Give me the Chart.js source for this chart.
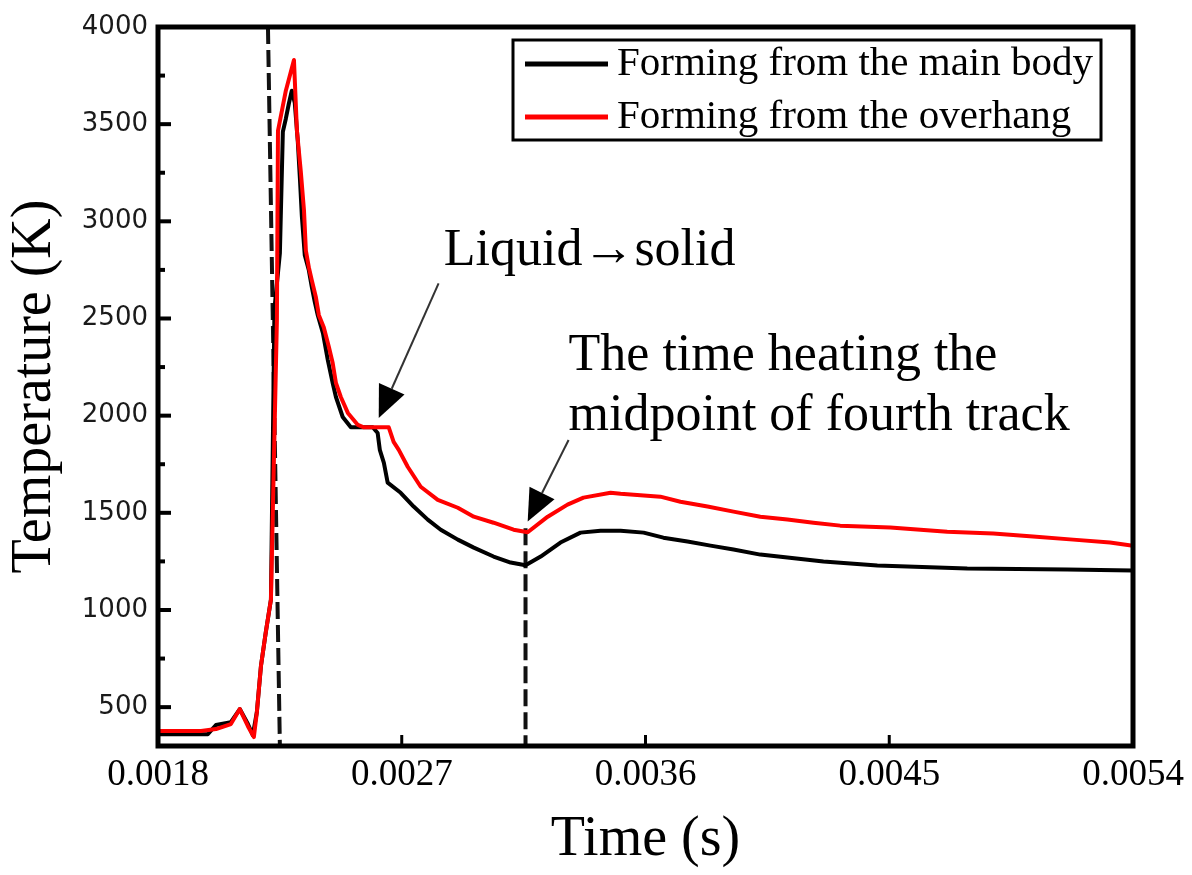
<!DOCTYPE html>
<html lang="en">
<head>
<meta charset="UTF-8">
<title>Temperature history of the fourth track</title>
<script src="https://cdn.jsdelivr.net/npm/chart.js"></script>
<style>
  body { margin: 0; background: #fff; }
</style>
</head>
<body>
<canvas id="chart" width="1192" height="875"></canvas>
<script>
// Temperature (K) against time (s) for the two forming cases
var mainBodyTime = [0.001800, 0.001984, 0.002014, 0.002069, 0.002102, 0.002132, 0.002150, 0.002165, 0.002180, 0.002198,
  0.002217, 0.002230, 0.002250, 0.002261, 0.002272, 0.002283, 0.002294, 0.002305, 0.002316, 0.002324,
  0.002331, 0.002342, 0.002357, 0.002368, 0.002379, 0.002390, 0.002409, 0.002427, 0.002445, 0.002457,
  0.002482, 0.002512, 0.002593, 0.002611, 0.002619, 0.002634, 0.002648, 0.002696, 0.002744, 0.002796,
  0.002844, 0.002907, 0.002966, 0.003039, 0.003102, 0.003157, 0.003213, 0.003286, 0.003360, 0.003434,
  0.003508, 0.003593, 0.003666, 0.003755, 0.003840, 0.003925, 0.004024, 0.004124, 0.004257, 0.004456,
  0.004788, 0.005157, 0.005400];
var mainBodyTemp = [361, 361, 408, 423, 490, 413, 356, 474, 710, 885,
  1054, 2550, 2835, 3461, 3528, 3605, 3672, 3610, 3415, 3220,
  3030, 2825, 2748, 2661, 2584, 2517, 2424, 2286, 2168, 2096,
  1993, 1940, 1940, 1911, 1824, 1757, 1655, 1603, 1532, 1465,
  1413, 1362, 1321, 1275, 1244, 1230, 1275, 1347, 1398, 1408,
  1408, 1398, 1372, 1352, 1331, 1311, 1285, 1270, 1249, 1229,
  1213, 1208, 1203];

var overhangTime = [0.001800, 0.001959, 0.002014, 0.002069, 0.002102, 0.002132, 0.002154, 0.002165, 0.002180, 0.002198,
  0.002217, 0.002239, 0.002243, 0.002272, 0.002302, 0.002313, 0.002327, 0.002339, 0.002346, 0.002357,
  0.002368, 0.002383, 0.002394, 0.002412, 0.002431, 0.002445, 0.002457, 0.002475, 0.002501, 0.002538,
  0.002560, 0.002652, 0.002670, 0.002689, 0.002722, 0.002770, 0.002833, 0.002907, 0.002966, 0.003039,
  0.003113, 0.003165, 0.003239, 0.003312, 0.003371, 0.003471, 0.003508, 0.003655, 0.003729, 0.003829,
  0.003925, 0.004024, 0.004124, 0.004220, 0.004319, 0.004504, 0.004714, 0.004884, 0.005031, 0.005179,
  0.005315, 0.005400];
var overhangTemp = [377, 377, 387, 413, 490, 402, 346, 474, 710, 885,
  1054, 2491, 3466, 3672, 3830, 3466, 3261, 3056, 2850, 2763,
  2696, 2609, 2517, 2455, 2353, 2271, 2168, 2096, 2014, 1952,
  1940, 1940, 1865, 1824, 1737, 1634, 1567, 1526, 1480, 1449,
  1413, 1400, 1480, 1542, 1578, 1603, 1598, 1583, 1557, 1532,
  1506, 1480, 1465, 1449, 1434, 1424, 1403, 1393, 1378, 1362,
  1347, 1331];

// dashed guides: laser reaching the point, and heating the midpoint of the fourth track
var meltGuideTime = [0.002206, 0.002250];
var meltGuideTemp = [4000, 300];
var trackGuideTime = [0.003157, 0.003157];
var trackGuideTemp = [1420, 300];

var xTicks = [0.0018, 0.0027, 0.0036, 0.0045, 0.0054];
var yTicks = [500, 1000, 1500, 2000, 2500, 3000, 3500, 4000];

function points(xs, ys) {
  return xs.map(function (x, i) { return { x: x, y: ys[i] }; });
}

// callouts, anchored in data units
var notes = [
  { lines: ['Liquid\u2192solid'], x: 0.002855, y: 2773, from: [0.002836, 2681], to: [0.002615, 1988] },
  { lines: ['The time heating the', 'midpoint of fourth track'], x: 0.003316, y: 2235, from: [0.003316, 1875], to: [0.003165, 1455] }
];

var serif = '"Liberation Serif", "Times New Roman", serif';

function drawArrow(ctx, x0, y0, x1, y1) {
  var dx = x1 - x0, dy = y1 - y0;
  var len = Math.sqrt(dx * dx + dy * dy);
  var ux = dx / len, uy = dy / len;
  var headLen = 32, headHalf = 14;
  var bx = x1 - ux * headLen, by = y1 - uy * headLen;
  ctx.strokeStyle = '#333';
  ctx.lineWidth = 2;
  ctx.beginPath();
  ctx.moveTo(x0, y0);
  ctx.lineTo(bx, by);
  ctx.stroke();
  ctx.fillStyle = '#000';
  ctx.beginPath();
  ctx.moveTo(x1, y1);
  ctx.lineTo(bx - uy * headHalf, by + ux * headHalf);
  ctx.lineTo(bx + uy * headHalf, by - ux * headHalf);
  ctx.closePath();
  ctx.fill();
}

var framePlugin = {
  id: 'frame',
  afterDraw: function (chart) {
    var ctx = chart.ctx;
    var a = chart.chartArea;
    var xs = chart.scales.x, ys = chart.scales.y;
    ctx.save();

    // inward ticks on the left axis, minor ones halfway
    ctx.strokeStyle = '#000';
    ctx.lineWidth = 4;
    yTicks.forEach(function (v) {
      var py = ys.getPixelForValue(v);
      ctx.beginPath(); ctx.moveTo(a.left, py); ctx.lineTo(a.left + 13, py); ctx.stroke();
      var pm = ys.getPixelForValue(v - 250);
      if (pm < a.bottom) {
        ctx.beginPath(); ctx.moveTo(a.left, pm); ctx.lineTo(a.left + 7, pm); ctx.stroke();
      }
    });
    ctx.lineWidth = 3;
    xTicks.forEach(function (v) {
      var px = xs.getPixelForValue(v);
      ctx.beginPath(); ctx.moveTo(px, a.bottom); ctx.lineTo(px, a.bottom - 11); ctx.stroke();
    });

    // frame
    ctx.lineWidth = 5;
    ctx.strokeRect(a.left, a.top, a.right - a.left, a.bottom - a.top);

    // legend
    ctx.lineWidth = 3;
    ctx.strokeRect(513, 40, 588, 100);
    var rows = [chart.data.datasets[1], chart.data.datasets[0]];
    ctx.font = '41px ' + serif;
    ctx.textBaseline = 'middle';
    ctx.textAlign = 'left';
    rows.forEach(function (ds, i) {
      var cy = 64 + i * 53;
      ctx.strokeStyle = ds.borderColor;
      ctx.lineWidth = 5;
      ctx.beginPath(); ctx.moveTo(525, cy); ctx.lineTo(608, cy); ctx.stroke();
      ctx.fillStyle = '#000';
      ctx.fillText(ds.label, 617, cy);
    });

    // callouts
    ctx.font = '52px ' + serif;
    ctx.textBaseline = 'alphabetic';
    notes.forEach(function (n) {
      var tx = xs.getPixelForValue(n.x), ty = ys.getPixelForValue(n.y);
      n.lines.forEach(function (t, i) {
        ctx.fillStyle = '#000';
        ctx.fillText(t, tx, ty + i * 60);
      });
      drawArrow(ctx, xs.getPixelForValue(n.from[0]), ys.getPixelForValue(n.from[1]),
        xs.getPixelForValue(n.to[0]), ys.getPixelForValue(n.to[1]));
    });
    ctx.restore();
  }
};

var lineStyle = { pointRadius: 0, borderWidth: 4, tension: 0, fill: false, borderJoinStyle: 'round' };

new Chart(document.getElementById('chart'), {
  type: 'line',
  data: {
    datasets: [
      Object.assign({ label: 'Forming from the overhang', data: points(overhangTime, overhangTemp), borderColor: '#ff0000', order: 0 }, lineStyle),
      Object.assign({ label: 'Forming from the main body', data: points(mainBodyTime, mainBodyTemp), borderColor: '#000000', order: 1 }, lineStyle),
      Object.assign({ label: 'melt guide', data: points(meltGuideTime, meltGuideTemp), borderColor: '#111', order: 2 }, lineStyle, { borderDash: [17, 6] }),
      Object.assign({ label: 'track guide', data: points(trackGuideTime, trackGuideTemp), borderColor: '#111', order: 2 }, lineStyle, { borderDash: [17, 6] })
    ]
  },
  options: {
    responsive: false,
    animation: false,
    devicePixelRatio: 1,
    layout: { padding: { top: 27, right: 59, left: 0, bottom: 0 } },
    plugins: { legend: { display: false }, tooltip: { enabled: false } },
    scales: {
      x: {
        type: 'linear',
        min: 0.0018,
        max: 0.0054,
        afterBuildTicks: function (s) { s.ticks = xTicks.map(function (v) { return { value: v }; }); },
        afterFit: function (s) { s.height = 129; },
        grid: { display: false, drawTicks: false },
        border: { display: false },
        ticks: {
          callback: function (v) { return v.toFixed(4); },
          font: { family: serif, size: 37 },
          color: '#000',
          padding: 7,
          maxRotation: 0,
          autoSkip: false
        },
        title: { display: true, text: 'Time (s)', color: '#000', font: { family: serif, size: 56, lineHeight: 1 }, padding: { top: 0, bottom: 7 } }
      },
      y: {
        type: 'linear',
        min: 300,
        max: 4000,
        afterBuildTicks: function (s) { s.ticks = yTicks.map(function (v) { return { value: v }; }); },
        afterFit: function (s) { s.width = 158; },
        grid: { display: false, drawTicks: false },
        border: { display: false },
        ticks: {
          callback: function (v) { return String(v); },
          font: { family: '"DejaVu Sans", sans-serif', size: 26 },
          color: '#1a1a1a',
          padding: 10
        },
        title: { display: true, text: 'Temperature (K)', color: '#000', font: { family: serif, size: 56, lineHeight: 1 }, padding: { top: 7, bottom: 0 } }
      }
    }
  },
  plugins: [framePlugin]
});
</script>
</body>
</html>
